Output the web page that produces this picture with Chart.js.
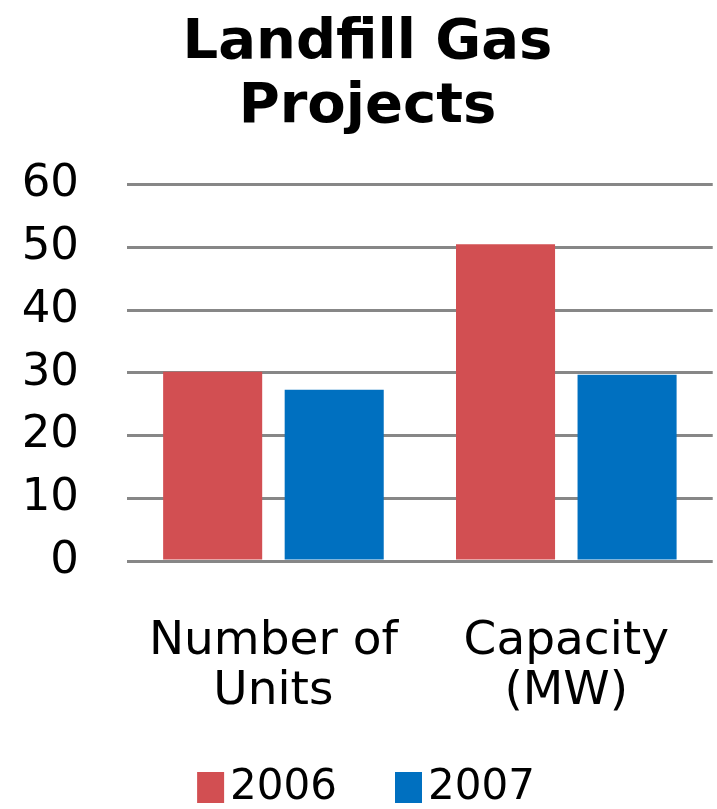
<!DOCTYPE html>
<html>
<head>
<meta charset="utf-8">
<script src="https://cdn.jsdelivr.net/npm/chart.js@4"></script>
<style>
  html, body { margin: 0; padding: 0; background: #fff; }
  #wrap { width: 717px; height: 809px; }
</style>
</head>
<body>
<div id="wrap"><canvas id="chart" width="717" height="809"></canvas></div>
<script>
const categories = [["Number of", "Units"], ["Capacity", "(MW)"]];
const years = ["2006", "2007"];
const values2006 = [30.2, 50.5];
const values2007 = [27.3, 29.7];
const yTicks = [0, 10, 20, 30, 40, 50, 60];

const RED = "#d24f52";
const BLUE = "#0070c0";
const GRID = "#878787";

// legend drawn by hand so the swatch sits tight against its label
const tightLegend = {
    id: "tightLegend",
    afterDraw(chart) {
        const ctx = chart.ctx;
        const box = 27, boxH = 31, gap = 6, between = 58;
        ctx.save();
        ctx.font = "42px 'DejaVu Sans'";
        const items = chart.data.datasets.map(ds => ({
            color: ds.backgroundColor,
            text: ds.label,
            w: ctx.measureText(ds.label).width
        }));
        let total = 0;
        items.forEach((it, i) => {
            total += box + gap + it.w + (i ? between : 0);
        });
        let x = 366 - total / 2;
        const top = 772;
        ctx.textBaseline = "middle";
        items.forEach(it => {
            ctx.fillStyle = it.color;
            ctx.fillRect(x, top, box, boxH);
            ctx.fillStyle = "#000";
            ctx.fillText(it.text, x + box + gap, top + boxH / 2 + 1);
            x += box + gap + it.w + between;
        });
        ctx.restore();
    }
};

new Chart(document.getElementById("chart"), {
    type: "bar",
    data: {
        labels: categories,
        datasets: [
            { label: years[0], data: values2006, backgroundColor: RED },
            { label: years[1], data: values2007, backgroundColor: BLUE }
        ]
    },
    options: {
        responsive: false,
        animation: false,
        layout: { padding: { left: 18, right: 0, top: 0, bottom: 85 } },
        datasets: {
            bar: { categoryPercentage: 0.83, barPercentage: 0.815 }
        },
        plugins: {
            legend: { display: false },
            tooltip: { enabled: false },
            title: {
                display: true,
                text: ["Landfill Gas", "Projects"],
                color: "#000",
                font: { family: "'DejaVu Sans'", size: 56, weight: "bold", lineHeight: 1.15 },
                padding: { top: 11, bottom: 45 }
            }
        },
        scales: {
            x: {
                grid: { display: false },
                border: { display: false },
                ticks: {
                    color: "#000",
                    padding: 48,
                    font: { family: "'DejaVu Sans'", size: 47, lineHeight: 1.06 }
                },
                afterFit(scale) { scale.height = 163; }
            },
            y: {
                min: 0,
                max: 60,
                afterBuildTicks(scale) {
                    scale.ticks = yTicks.map(v => ({ value: v }));
                },
                grid: { color: GRID, lineWidth: 3, drawTicks: false },
                border: { display: false },
                ticks: {
                    color: "#000",
                    padding: 48,
                    font: { family: "'DejaVu Sans'", size: 45 }
                },
                afterFit(scale) { scale.width = 127 - 18; }
            }
        }
    },
    plugins: [tightLegend]
});
</script>
</body>
</html>
